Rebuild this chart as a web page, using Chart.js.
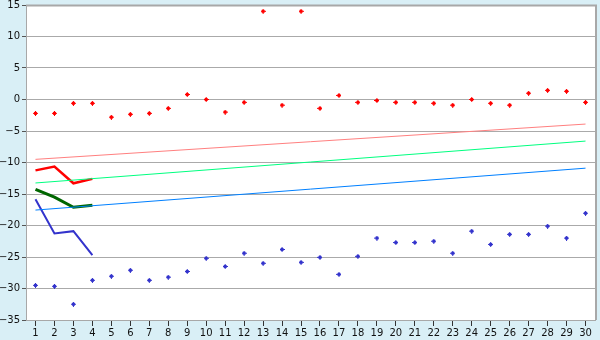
<!DOCTYPE html>
<html>
<head>
<meta charset="utf-8">
<script src="https://cdn.jsdelivr.net/npm/chart.js@4/dist/chart.umd.min.js"></script>
<style>
  html, body { margin: 0; padding: 0; background: #d9eff6; }
  #wrap { width: 600px; height: 340px; }
</style>
</head>
<body>
<div id="wrap"><canvas id="c" width="600" height="340"></canvas></div>
<script>
const categories = ['1','2','3','4','5','6','7','8','9','10','11','12','13','14','15',
                    '16','17','18','19','20','21','22','23','24','25','26','27','28','29','30'];

// scatter series
const redPoints  = [-2.2, -2.2, -0.6, -0.6, -2.8, -2.35, -2.2, -1.4, 0.8, 0.0,
                    -2.0, -0.45, 14.0, -0.9, 14.0, -1.4, 0.65, -0.45, -0.15, -0.45,
                    -0.45, -0.6, -0.9, 0.0, -0.6, -0.9, 1.0, 1.45, 1.3, -0.45];
const bluePoints = [-29.5, -29.65, -32.5, -28.7, -28.05, -27.1, -28.7, -28.2, -27.3, -25.2,
                    -26.5, -24.4, -26.0, -23.8, -25.85, -25.05, -27.75, -24.9, -22.0, -22.7,
                    -22.7, -22.5, -24.4, -20.9, -23.0, -21.4, -21.4, -20.1, -22.0, -18.05];

// short thick lines (categories 1..4)
const redLine   = [-11.25, -10.65, -13.3, -12.6];
const greenLine = [-14.25, -15.5, -17.1, -16.8];
const blueLine  = [-15.85, -21.25, -20.9, -24.7];

// thin straight lines, end points only
const trendCats  = ['1', '30'];
const pinkTrend  = [-9.5, -3.9];
const greenTrend = [-13.25, -6.6];
const blueTrend  = [-17.55, -10.9];

const yTicks = { min: -35, max: 15, step: 5 };

function marker(color) {
  const m = document.createElement('canvas');
  m.width = 5; m.height = 5;
  const g = m.getContext('2d');
  g.fillStyle = color;
  g.fillRect(2, 0, 1, 5);
  g.fillRect(0, 2, 5, 1);
  g.fillRect(1, 1, 3, 3);
  return m;
}

function pairs(cats, vals) {
  return vals.map((v, i) => ({ x: cats[i], y: v }));
}

function thin(vals, color) {
  return {
    data: pairs(trendCats, vals),
    borderColor: color, borderWidth: 1,
    pointRadius: 0, fill: false, tension: 0,
  };
}

function thick(vals, color, w) {
  return {
    data: pairs(categories, vals),
    borderColor: color, borderWidth: w,
    pointRadius: 0, fill: false, tension: 0,
  };
}

const plotBg = {
  id: 'plotBg',
  beforeDraw(chart) {
    const { ctx, chartArea: a } = chart;
    ctx.save();
    ctx.fillStyle = '#ffffff';
    ctx.fillRect(a.left, a.top, a.right - a.left, a.bottom - a.top);
    ctx.restore();
  },
  afterDatasetsDraw(chart) {
    const { ctx, chartArea: a } = chart;
    ctx.save();
    ctx.strokeStyle = '#a8a8a8';
    ctx.lineWidth = 2;
    ctx.beginPath();
    ctx.moveTo(a.left, a.top + 0.5);
    ctx.lineTo(a.right + 1, a.top + 0.5);
    ctx.lineTo(a.right + 1, a.bottom);
    ctx.stroke();
    ctx.restore();
  }
};

new Chart(document.getElementById('c'), {
  type: 'line',
  data: {
    labels: categories,
    datasets: [
      thin(pinkTrend,  '#ff8080'),
      thin(greenTrend, '#00ff80'),
      thin(blueTrend,  '#0080ff'),
      thick(redLine,   '#ff0000', 2.5),
      thick(greenLine, '#006600', 3),
      thick(blueLine,  '#3333cc', 2),
      {
        data: redPoints, showLine: false,
        pointStyle: marker('#ff0000'), pointRadius: 3,
      },
      {
        data: bluePoints, showLine: false,
        pointStyle: marker('#3333cc'), pointRadius: 3,
      },
    ]
  },
  options: {
    responsive: false,
    animation: false,
    devicePixelRatio: 1,
    layout: { padding: { top: 5, right: 5, left: 0, bottom: 0 } },
    plugins: { legend: { display: false }, tooltip: { enabled: false } },
    scales: {
      x: {
        type: 'category',
        offset: true,
        afterFit(s) { s.height = 20; s.paddingLeft = 0; s.paddingRight = 0; },
        grid: { offset: false, drawOnChartArea: false, drawTicks: true, tickLength: 6, tickColor: '#333' },
        border: { color: '#a8a8a8' },
        ticks: { color: '#111', padding: 1, maxRotation: 0, autoSkip: false,
                 font: { family: 'DejaVu Sans', size: 10 } },
      },
      y: {
        min: yTicks.min, max: yTicks.max,
        afterFit(s) { s.width = 26; s.paddingTop = 0; s.paddingBottom = 0; },
        grid: { color: '#aaaaaa', tickLength: 4, tickColor: '#555' },
        border: { color: '#a8a8a8' },
        ticks: { stepSize: yTicks.step, color: '#111', padding: 2,
                 font: { family: 'DejaVu Sans', size: 10 },
                 callback: v => String(v).replace('-', '\u2212') },
      }
    }
  },
  plugins: [plotBg]
});
</script>
</body>
</html>
